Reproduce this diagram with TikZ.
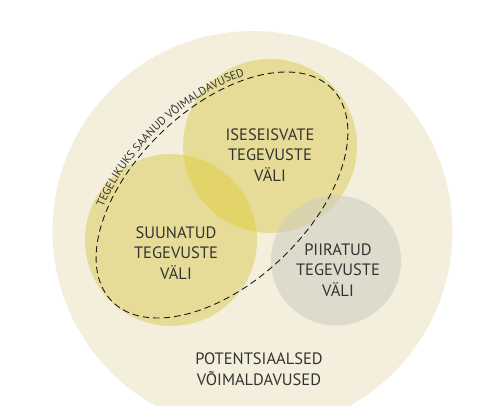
\documentclass[tikz,border=0pt]{standalone}
\usepackage{fontspec}
\setmainfont{PT Sans}
\usetikzlibrary{decorations.text}
\definecolor{cream}{HTML}{F4EFDD}
\definecolor{fieldyellow}{HTML}{E6DC98}
\definecolor{overlapyellow}{HTML}{E3D46A}
\definecolor{fieldgray}{HTML}{DDDBCC}
\definecolor{overlapgray}{HTML}{D8D3AC}
\definecolor{labeltext}{HTML}{333333}
\begin{document}
\begin{tikzpicture}[
    x=1pt, y=1pt,
    field/.style={circle, inner sep=0pt, draw=none},
    field_label/.style={align=center, text=labeltext, font=\fontsize{16.5}{20.5}\selectfont},
    dashed_border/.style={draw=black!90, line width=0.9pt, dash pattern=on 6.5pt off 4pt}
]
\useasboundingbox (0,0) rectangle (493,406);
% potential affordances
\begin{scope}
    \clip (0,0) rectangle (493,406);
    \node[field, fill=cream, minimum size=400pt] (potential) at (252.5,175) {};
\end{scope}
% fields of activity
\node[field, fill=fieldyellow, minimum size=172pt] (directed) at (171,166) {};
\node[field, fill=fieldyellow, minimum size=174pt] (independent) at (270,260) {};
\begin{scope}
    \clip (171,166) circle (86pt);
    \fill[overlapyellow] (270,260) circle (87pt);
\end{scope}
\node[field, fill=fieldgray, minimum size=130pt] (restricted) at (336,145.5) {};
\begin{scope}
    \clip (336,145.5) circle (65pt);
    \fill[overlapgray] (270,260) circle (87pt);
\end{scope}
% labels
\node[field_label] (directed_text) at (176,153) {SUUNATUD\\TEGEVUSTE\\VÄLI};
\node[field_label] (independent_text) at (270,251) {ISESEISVATE\\TEGEVUSTE\\VÄLI};
\node[field_label] (restricted_text) at (338,136) {PIIRATUD\\TEGEVUSTE\\VÄLI};
\node[field_label] (potential_text) at (259,37) {POTENTSIAALSED\\VÕIMALDAVUSED};
% realised affordances
\begin{scope}[shift={(222,211)}, rotate=43.7]
    \draw[dashed_border] (0,0) ellipse [x radius=153pt, y radius=87pt];
    \path[decorate, decoration={text along path, text align=center,
        text={|\fontsize{11.5}{13}\selectfont\color{labeltext}|TEGELIKUKS SAANUD VÕIMALDAVUSED}}]
        (130:157pt and 91pt) arc [start angle=130, end angle=48, x radius=157pt, y radius=91pt];
\end{scope}
\end{tikzpicture}
\end{document}
